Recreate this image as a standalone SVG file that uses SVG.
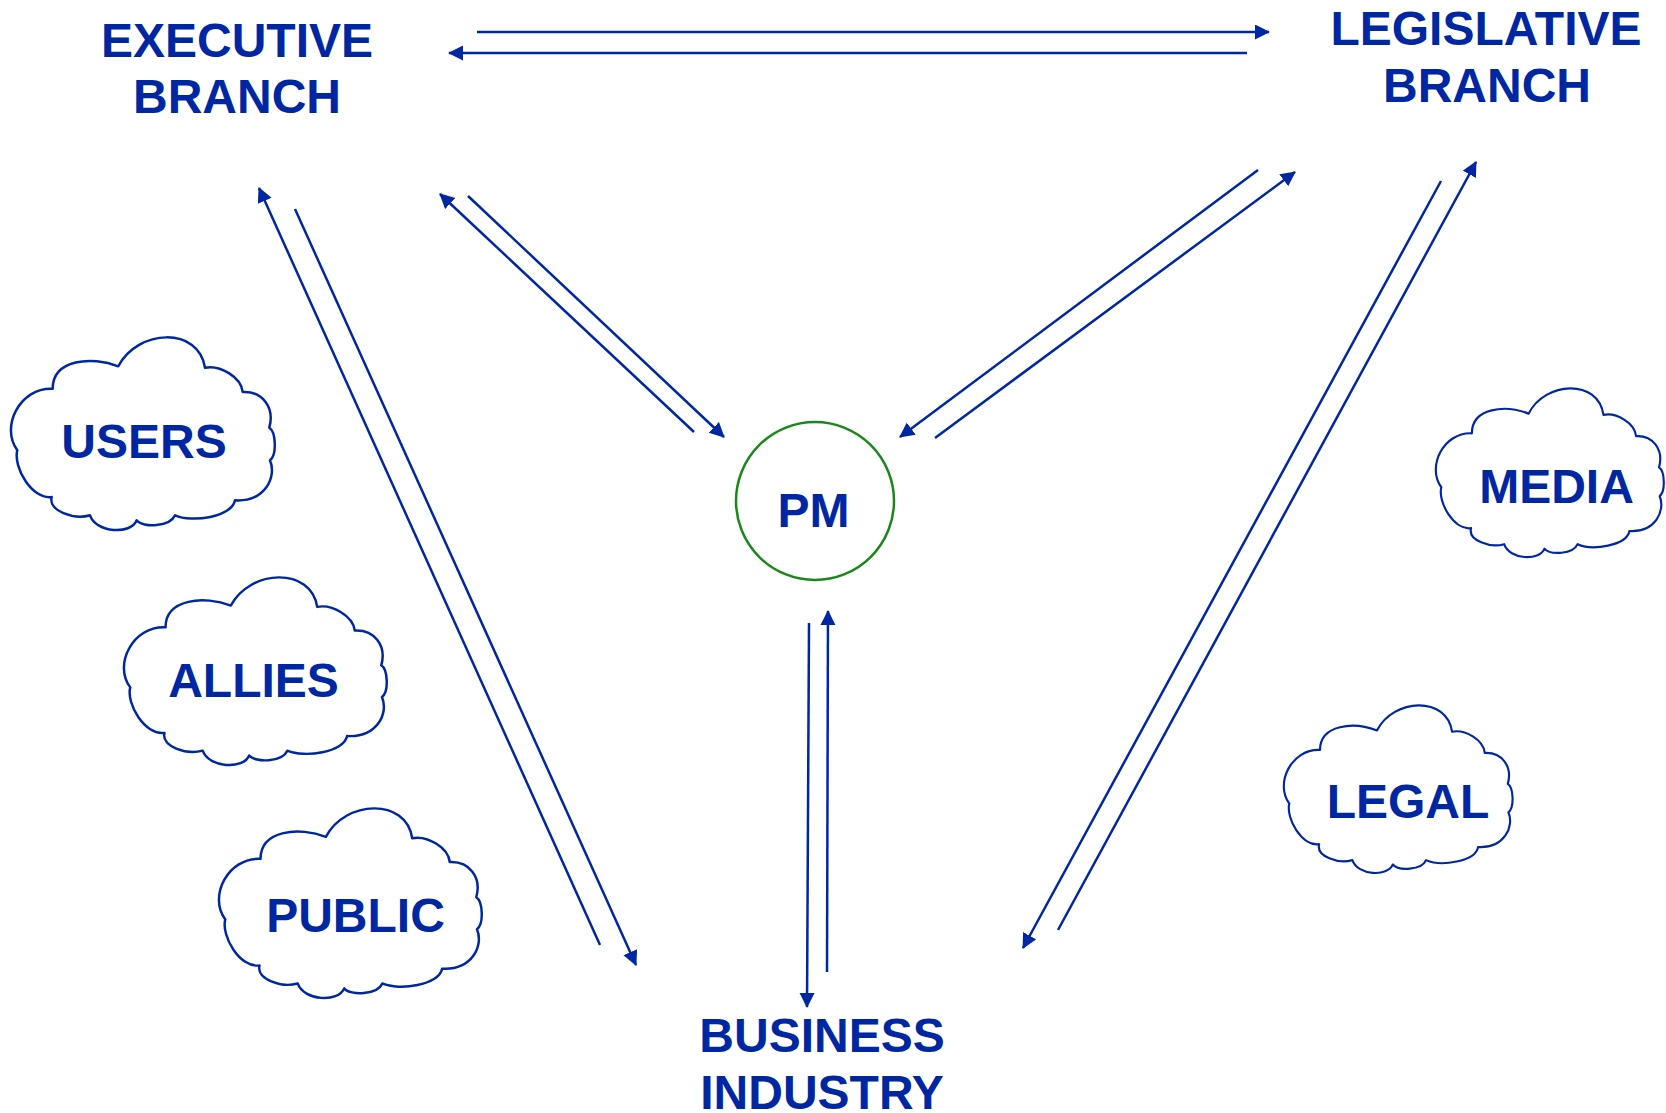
<svg xmlns="http://www.w3.org/2000/svg" width="1666" height="1113" viewBox="0 0 1666 1113">
<style>
.lbl{font-family:"Liberation Sans",Arial,sans-serif;font-weight:bold;font-size:48px;fill:#0027A2;text-anchor:middle}
.cloud{fill:#ffffff;stroke:#0027A2;stroke-width:2.5;vector-effect:non-scaling-stroke;stroke-linejoin:round}
.conn{stroke:#0027A2;stroke-width:2.5;fill:none}
</style>
<defs>
<marker id="ah" markerUnits="userSpaceOnUse" markerWidth="16" markerHeight="16" refX="14" refY="7.5" orient="auto">
<path d="M0,0 L15,7.5 L0,15 Z" fill="#0027A2"/>
</marker>
<path id="cloudShape" d="M 7.3 113.3 C -10 90 10 50 42.7 51.7 C 42.7 22 82 19 108.3 29.3 C 127.6 -8.1 188.7 -10.9 195 30.7 C 210 27.7 231.2 40 232.7 55 C 252 54 265 70 259.3 90.7 C 266 95 267 118 260 123.3 C 267 140 255 165 225 163.3 C 222 180 182 186 165 178.3 C 160 190 133 191 126.7 183.3 C 121 198 86 196 80 178.3 C 64 183 38 174 41.7 160 C 22 163 3 130 7.3 113.3 Z"/>
</defs>
<rect width="1666" height="1113" fill="#ffffff"/>
<g id="connectors" class="conn">
<line x1="477" y1="32" x2="1269" y2="32" marker-end="url(#ah)"/>
<line x1="1247" y1="53" x2="449" y2="53" marker-end="url(#ah)"/>
<line x1="600" y1="945" x2="259" y2="188" marker-end="url(#ah)"/>
<line x1="295" y1="209" x2="636" y2="965" marker-end="url(#ah)"/>
<line x1="694" y1="432" x2="440" y2="194" marker-end="url(#ah)"/>
<line x1="468" y1="196" x2="724" y2="437" marker-end="url(#ah)"/>
<line x1="1258" y1="170" x2="900" y2="437" marker-end="url(#ah)"/>
<line x1="935" y1="438" x2="1295" y2="172" marker-end="url(#ah)"/>
<line x1="1441" y1="181" x2="1023" y2="948" marker-end="url(#ah)"/>
<line x1="1058" y1="930" x2="1476" y2="162" marker-end="url(#ah)"/>
<line x1="809" y1="623" x2="807" y2="1007" marker-end="url(#ah)"/>
<line x1="827" y1="972" x2="828" y2="611" marker-end="url(#ah)"/>
</g>
<g id="executive">
<text class="lbl" x="237" y="57">EXECUTIVE</text>
<text class="lbl" x="237" y="113">BRANCH</text>
</g>
<g id="legislative">
<text class="lbl" x="1486" y="45">LEGISLATIVE</text>
<text class="lbl" x="1487" y="102">BRANCH</text>
</g>
<g id="business">
<text class="lbl" x="822" y="1052">BUSINESS</text>
<text class="lbl" x="822" y="1109">INDUSTRY</text>
</g>
<g id="pm">
<circle cx="815" cy="501" r="79" fill="#ffffff" stroke="#1A871A" stroke-width="2.5"/>
<text class="lbl" x="813.5" y="527">PM</text>
</g>
<g id="users">
<use href="#cloudShape" class="cloud" transform="translate(10,337)"/>
<text class="lbl" x="144" y="458">USERS</text>
</g>
<g id="allies">
<use href="#cloudShape" class="cloud" transform="translate(123,577) scale(0.996,0.974)"/>
<text class="lbl" x="253.5" y="697">ALLIES</text>
</g>
<g id="public">
<use href="#cloudShape" class="cloud" transform="translate(218,808) scale(0.996,0.984)"/>
<text class="lbl" x="355.5" y="932">PUBLIC</text>
</g>
<g id="legal">
<use href="#cloudShape" class="cloud" transform="translate(1283,705) scale(0.867,0.870)"/>
<text class="lbl" x="1408" y="818">LEGAL</text>
</g>
<g id="media">
<use href="#cloudShape" class="cloud" transform="translate(1435,388) scale(0.864,0.876)"/>
<text class="lbl" x="1556.5" y="503">MEDIA</text>
</g>
</svg>
